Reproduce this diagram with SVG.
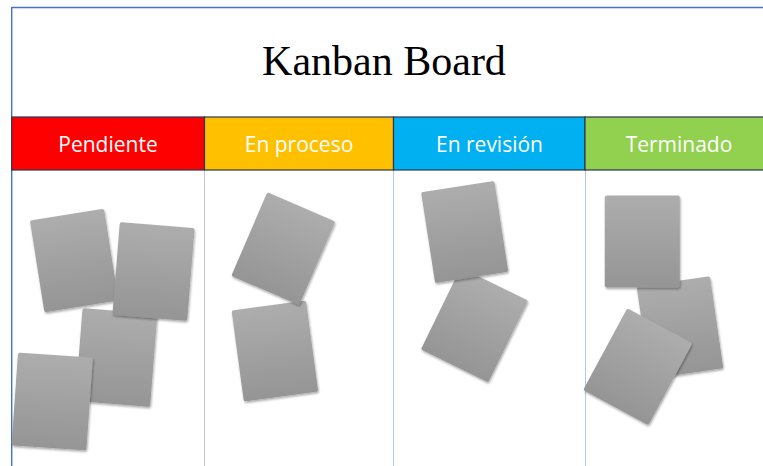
<svg xmlns="http://www.w3.org/2000/svg" width="763" height="466" viewBox="0 0 763 466">
  <style>
    .title { font-family: "Liberation Serif", "Times New Roman", serif; font-size: 42px; fill: #000; }
    .head { stroke: #2a3656; stroke-width: 1.2; }
    .head-label { font-family: "Open Sans", "Liberation Sans", sans-serif; font-size: 21px; fill: #ffffff; text-anchor: middle; }
    .col-line { stroke: #b4c7e7; stroke-width: 1; }
    .frame { stroke: #4472c4; stroke-width: 1.4; fill: none; }
    .card { fill: url(#cardFill); }
  </style>
  <defs>
    <linearGradient id="cardFill" x1="0" y1="0" x2="0" y2="1">
      <stop offset="0" stop-color="#adadad"/>
      <stop offset="1" stop-color="#959595"/>
    </linearGradient>
    <filter id="cardShadow" x="-20%" y="-20%" width="140%" height="140%">
      <feDropShadow dx="0.8" dy="1.6" stdDeviation="1.3" flood-color="#000" flood-opacity="0.35"/>
    </filter>
  </defs>

  <rect width="763" height="466" fill="#ffffff"/>

  <!-- board frame and column dividers -->
  <g id="grid">
    <line class="frame" x1="11.7" y1="7.5" x2="763" y2="7.5"/>
    <line class="frame" x1="11.7" y1="7" x2="11.7" y2="466"/>
    <line class="col-line" x1="204.5" y1="170" x2="204.5" y2="466"/>
    <line class="col-line" x1="393.5" y1="170" x2="393.5" y2="466"/>
    <line class="col-line" x1="585.5" y1="170" x2="585.5" y2="466"/>
  </g>

  <g id="title">
    <text class="title" x="384" y="75" text-anchor="middle">Kanban Board</text>
  </g>

  <!-- column headers -->
  <g id="col-pendiente">
    <rect class="head" x="11.7" y="117" width="192.8" height="53" fill="#ff0000"/>
    <text class="head-label" x="108" y="151.5">Pendiente</text>
  </g>
  <g id="col-en-proceso">
    <rect class="head" x="204.5" y="117" width="189" height="53" fill="#ffc000"/>
    <text class="head-label" x="299" y="151.5">En proceso</text>
  </g>
  <g id="col-en-revision">
    <rect class="head" x="393.5" y="117" width="191.5" height="53" fill="#00b0f0"/>
    <text class="head-label" x="489.5" y="151.5">En revisión</text>
  </g>
  <g id="col-terminado">
    <rect class="head" x="585" y="117" width="185" height="53" fill="#92d050"/>
    <text class="head-label" x="679" y="151.5">Terminado</text>
  </g>

  <!-- task cards -->
  <g id="cards">
    <g id="card-a" filter="url(#cardShadow)"><rect class="card" x="-37.5" y="-46.5" width="75" height="93" rx="2" transform="translate(74.2 260.5) rotate(-9)"/></g>
    <g id="card-c" filter="url(#cardShadow)"><rect class="card" x="-37.5" y="-46.5" width="75" height="93" rx="2" transform="translate(116.3 357.5) rotate(4.5)"/></g>
    <g id="card-b" filter="url(#cardShadow)"><rect class="card" x="-37.5" y="-46.5" width="75" height="93" rx="2" transform="translate(153.5 271.5) rotate(4.6)"/></g>
    <g id="card-d" filter="url(#cardShadow)"><rect class="card" x="-37.5" y="-46.5" width="75" height="93" rx="2" transform="translate(52.2 401.5) rotate(4)"/></g>

    <g id="card-f" filter="url(#cardShadow)"><rect class="card" x="-37.5" y="-46" width="75" height="92" rx="2" transform="translate(274.9 351) rotate(-7.7)"/></g>
    <g id="card-e" filter="url(#cardShadow)"><rect class="card" x="-37" y="-45.5" width="74" height="91" rx="2" transform="translate(283.3 248.7) rotate(23.3)"/></g>

    <g id="card-h" filter="url(#cardShadow)"><rect class="card" x="-37.5" y="-45.5" width="75" height="91" rx="2" transform="translate(474.5 325) rotate(26)"/></g>
    <g id="card-g" filter="url(#cardShadow)"><rect class="card" x="-37" y="-46" width="74" height="92" rx="2" transform="translate(464.7 232) rotate(-8.8)"/></g>

    <g id="card-j" filter="url(#cardShadow)"><rect class="card" x="-37" y="-46.5" width="74" height="93" rx="2" transform="translate(680 327.5) rotate(-8.3)"/></g>
    <g id="card-i" filter="url(#cardShadow)"><rect class="card" x="-37.5" y="-46" width="75" height="92" rx="2" transform="translate(642.3 241.5)"/></g>
    <g id="card-k" filter="url(#cardShadow)"><rect class="card" x="-37" y="-46.5" width="74" height="93" rx="2" transform="translate(637.8 366.7) rotate(28.3)"/></g>
  </g>

  <!-- no connectors on this board -->
  <g id="connectors"/>
</svg>
